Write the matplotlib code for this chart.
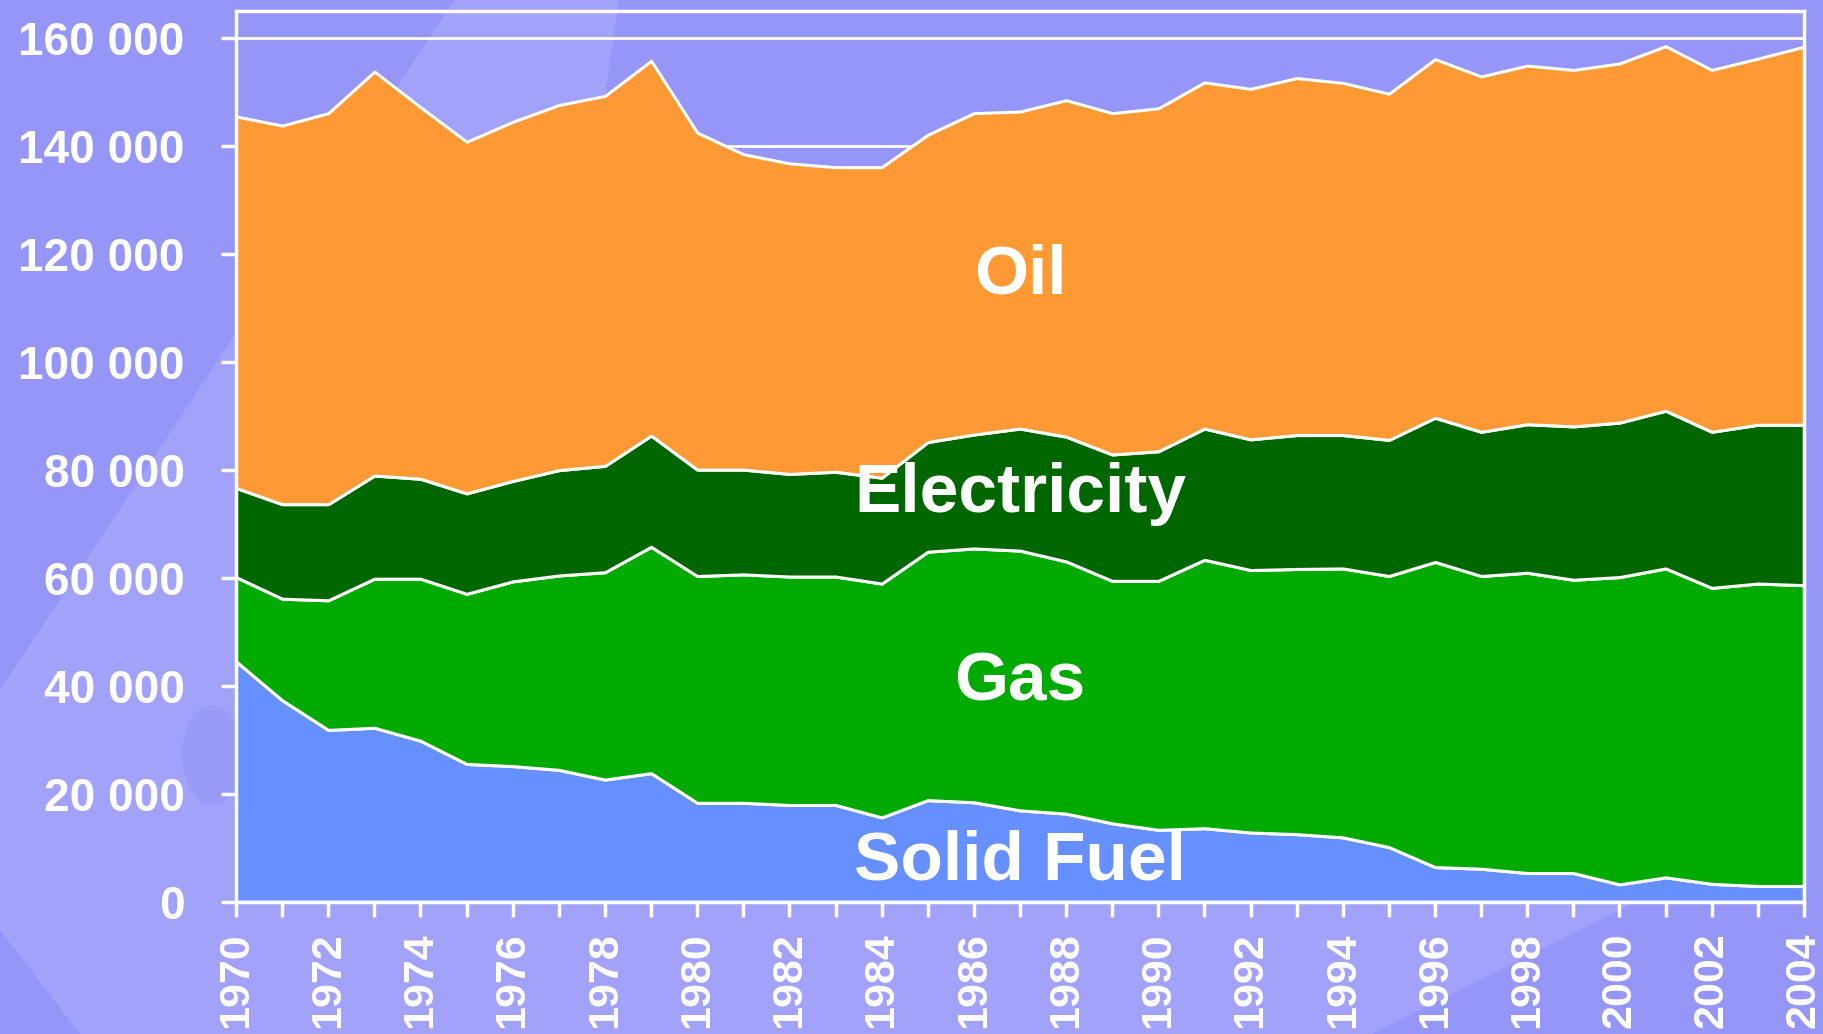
import matplotlib
matplotlib.use("Agg")
import matplotlib.pyplot as plt
from matplotlib.patches import Polygon, Ellipse
from matplotlib.ticker import FuncFormatter, MultipleLocator

years = list(range(1970, 2005))

solid_fuel = [44500, 37300, 31800, 32200, 29800, 25500, 25100, 24400, 22600, 23800,
              18300, 18300, 17900, 17900, 15600, 18800, 18400, 16900, 16300, 14500,
              13300, 13600, 12800, 12500, 11900, 10100, 6400, 6100, 5300, 5300,
              3200, 4500, 3300, 2900, 2900]
gas = [15600, 18800, 24000, 27600, 30000, 31500, 34200, 36000, 38400, 41900,
       42000, 42300, 42300, 42300, 43300, 46000, 47000, 48100, 46700, 44900,
       46100, 49700, 48600, 49100, 49800, 50200, 56500, 54200, 55600, 54300,
       56900, 57200, 54800, 56000, 55700]
electricity = [16500, 17500, 17800, 19100, 18500, 18600, 18600, 19500, 19700, 20600,
               19700, 19400, 19000, 19400, 19600, 20300, 21100, 22600, 23100, 23400,
               24000, 24300, 24200, 24800, 24700, 25200, 26700, 26700, 27500, 28400,
               28600, 29200, 28900, 29400, 29700]
oil = [68800, 70100, 72400, 74800, 68800, 65100, 66500, 67600, 68500, 69400,
       62400, 58400, 57500, 56400, 57500, 56900, 59500, 58700, 62300, 63200,
       63500, 64100, 64900, 66100, 65200, 64100, 66400, 65800, 66400, 66000,
       66500, 67500, 67000, 67800, 70000]

names = ["Solid Fuel", "Gas", "Electricity", "Oil"]
colors = ["#6690FF", "#00AA00", "#006600", "#FF9933"]

plt.rcParams['font.family'] = ['Liberation Sans', 'DejaVu Sans']
plt.rcParams['font.weight'] = 'bold'

bg = "#9696F8"
light = "#A2A2FB"
W, H = 1824, 1034
fig = plt.figure(figsize=(W / 100, H / 100), dpi=100, facecolor=bg)

# soft lighter band in the slide background (pixel coords, top-left origin)
band = [(454, 0), (619, 0), (590, 200), (1640, 900), (1372, H), (80, H),
        (0, 930), (0, 690), (236, 333)]
fig.patches.append(Polygon([(x, H - y) for x, y in band], closed=True,
                           transform=None, facecolor=light, edgecolor="none",
                           zorder=-2))
fig.patches.append(Ellipse((212, H - 755), 60, 100, transform=None,
                           facecolor="#9A9AF9", edgecolor="none", zorder=-1))

ax = fig.add_axes([0.1294, 0.128, 0.8596, 0.8618])
ax.patch.set_alpha(0)

# white grid lines behind the areas
for v in range(20000, 160001, 20000):
    ax.axhline(v, color="white", lw=2, zorder=0)

ax.stackplot(years, solid_fuel, gas, electricity, oil, colors=colors,
             edgecolor="white", linewidth=2.2, zorder=2)

ax.set_xlim(1970, 2004)
ax.set_ylim(0, 165000)

for s in ax.spines.values():
    s.set_color("white")
    s.set_linewidth(2.5)
    s.set_zorder(5)

ax.yaxis.set_major_locator(MultipleLocator(20000))
ax.yaxis.set_major_formatter(FuncFormatter(lambda v, p: f"{int(v):,}".replace(",", " ")))
ax.xaxis.set_major_locator(MultipleLocator(2))
ax.xaxis.set_minor_locator(MultipleLocator(1))

ax.tick_params(axis="y", colors="white", direction="out", length=11, width=2.5,
               labelsize=33, pad=26)
ax.tick_params(axis="x", which="both", colors="white", direction="out", length=11,
               width=2.5, labelsize=31, pad=11)
for lbl in ax.get_xticklabels():
    lbl.set_rotation(90)
for lbl in ax.get_xticklabels() + ax.get_yticklabels():
    lbl.set_fontweight("bold")

label_pos = [(1987, 7500), (1987, 40500), (1987, 75500), (1987, 116000)]
for name, (lx, ly) in zip(names, label_pos):
    ax.text(lx, ly, name, color="white", fontsize=50, fontweight="bold",
            ha="center", va="center", zorder=6)

fig.savefig("out.png", dpi=100, facecolor=bg)
